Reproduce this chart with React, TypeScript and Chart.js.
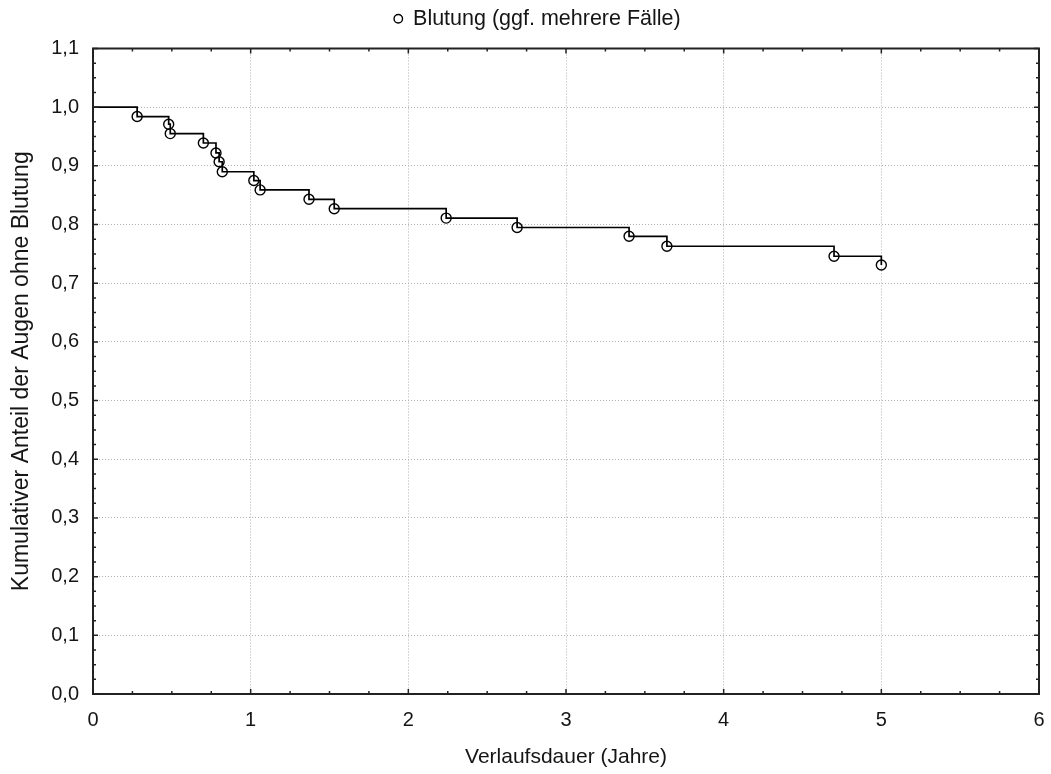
import React, { useEffect, useRef } from 'react';
import { Chart, registerables } from 'chart.js';

Chart.register(...registerables);

// ---- data ----
const startTime = 0;
const startSurvival = 1.0;
const eventTimes = [0.28, 0.48, 0.49, 0.70, 0.78, 0.80, 0.82, 1.02, 1.06, 1.37, 1.53, 2.24, 2.69, 3.40, 3.64, 4.70, 5.00];
const survival = [0.984, 0.971, 0.955, 0.939, 0.922, 0.907, 0.890, 0.875, 0.859, 0.843, 0.827, 0.811, 0.795, 0.780, 0.763, 0.746, 0.731];
const xTicks = [0, 1, 2, 3, 4, 5, 6];
const yTicks = [0, 0.1, 0.2, 0.3, 0.4, 0.5, 0.6, 0.7, 0.8, 0.9, 1.0, 1.1];
const legendLabel = 'Blutung (ggf. mehrere Fälle)';
const xTitle = 'Verlaufsdauer (Jahre)';
const yTitle = 'Kumulativer Anteil der Augen ohne Blutung';

const FONT = "'Liberation Sans', Arial, sans-serif";
const TEXT = '#151515';
const MINOR_DIV = 4;

const framePlugin = {
  id: 'frameTicks',
  afterDraw(chart: any) {
    const { ctx, chartArea: a, scales } = chart;
    const x = scales.x;
    const y = scales.y;
    ctx.save();
    ctx.strokeStyle = '#222';
    ctx.lineWidth = 2;
    ctx.strokeRect(a.left, a.top, a.right - a.left, a.bottom - a.top);
    ctx.lineWidth = 1.5;
    ctx.beginPath();
    for (let i = 0; i < xTicks.length; i++) {
      const v0 = xTicks[i];
      const v1 = i + 1 < xTicks.length ? xTicks[i + 1] : v0;
      const n = i + 1 < xTicks.length ? MINOR_DIV : 1;
      for (let k = 0; k < n; k++) {
        const v = v0 + ((v1 - v0) * k) / MINOR_DIV;
        const px = x.getPixelForValue(v);
        const len = k === 0 ? 5 : 3;
        ctx.moveTo(px, a.bottom);
        ctx.lineTo(px, a.bottom - len);
        ctx.moveTo(px, a.top);
        ctx.lineTo(px, a.top + len);
      }
    }
    for (let i = 0; i < yTicks.length; i++) {
      const v0 = yTicks[i];
      const v1 = i + 1 < yTicks.length ? yTicks[i + 1] : v0;
      const n = i + 1 < yTicks.length ? MINOR_DIV : 1;
      for (let k = 0; k < n; k++) {
        const v = v0 + ((v1 - v0) * k) / MINOR_DIV;
        const py = y.getPixelForValue(v);
        const len = k === 0 ? 5 : 3;
        ctx.moveTo(a.left, py);
        ctx.lineTo(a.left + len, py);
        ctx.moveTo(a.right, py);
        ctx.lineTo(a.right - len, py);
      }
    }
    ctx.stroke();
    ctx.restore();
  },
};

const legendSpacing = {
  id: 'legendSpacing',
  beforeLayout(chart: any) {
    const lg = chart.legend;
    if (lg && !lg.__patched) {
      const f = lg.fit.bind(lg);
      lg.fit = function () {
        f();
        this.height += 9;
      };
      lg.__patched = true;
    }
  },
  afterLayout(chart: any) {
    const lg = chart.legend;
    if (lg) {
      lg.left += 12;
      lg.right += 12;
    }
  },
};

export default function App() {
  const ref = useRef<HTMLCanvasElement | null>(null);

  useEffect(() => {
    document.body.style.margin = '0';
    document.body.style.overflow = 'hidden';
    if (!ref.current) return;

    const linePts = [{ x: startTime, y: startSurvival }].concat(
      eventTimes.map((t, i) => ({ x: t, y: survival[i] }))
    );
    const circlePts = eventTimes.map((t, i) => ({ x: t, y: survival[i] }));

    const chart = new Chart(ref.current, {
      type: 'line',
      data: {
        datasets: [
          {
            label: 'Kaplan-Meier',
            data: linePts,
            borderColor: '#000',
            borderWidth: 1.7,
            stepped: 'before',
            pointRadius: 0,
            fill: false,
          },
          {
            label: legendLabel,
            data: circlePts,
            showLine: false,
            pointStyle: 'circle',
            pointRadius: 5,
            pointBorderWidth: 1.4,
            pointBorderColor: '#000',
            pointBackgroundColor: 'rgba(0,0,0,0)',
            borderColor: '#000',
            backgroundColor: 'rgba(0,0,0,0)',
            borderWidth: 1.4,
          },
        ],
      } as any,
      options: {
        responsive: false,
        animation: false,
        layout: { padding: { top: 0, left: 0, right: 0, bottom: 0 } },
        plugins: {
          legend: {
            display: true,
            position: 'top',
            labels: {
              usePointStyle: true,
              boxWidth: 8,
              boxHeight: 6,
              padding: 8,
              color: TEXT,
              font: { family: FONT, size: 21.5 },
              filter: (item: any) => item.datasetIndex === 1,
            },
          },
          tooltip: { enabled: false },
        },
        scales: {
          x: {
            type: 'linear',
            min: 0,
            max: 6,
            afterBuildTicks: (s: any) => {
              s.ticks = xTicks.map((v) => ({ value: v }));
            },
            afterFit: (s: any) => {
              s.height = 80;
              s.paddingRight = 12;
              s.paddingLeft = 0;
            },
            ticks: {
              padding: 14,
              color: TEXT,
              font: { family: FONT, size: 20 },
              maxRotation: 0,
              autoSkip: false,
              callback: (v: any) => String(v),
            },
            grid: { color: '#b0b0b0', lineWidth: 1, drawTicks: false },
            border: { display: false, dash: [1, 2] },
            title: {
              display: true,
              text: xTitle,
              color: TEXT,
              font: { family: FONT, size: 21 },
              padding: { top: 0, bottom: 4 },
            },
          },
          y: {
            type: 'linear',
            min: 0,
            max: 1.1,
            afterBuildTicks: (s: any) => {
              s.ticks = yTicks.map((v) => ({ value: v }));
            },
            afterFit: (s: any) => {
              s.width = 93;
            },
            ticks: {
              padding: 14,
              color: TEXT,
              font: { family: FONT, size: 20 },
              autoSkip: false,
              callback: (v: any) => Number(v).toFixed(1).replace('.', ','),
            },
            grid: { color: '#b0b0b0', lineWidth: 1, drawTicks: false },
            border: { display: false, dash: [1, 2] },
            title: {
              display: true,
              text: yTitle,
              color: TEXT,
              font: { family: FONT, size: 23 },
              padding: { top: 8, bottom: 0 },
            },
          },
        },
      } as any,
      plugins: [framePlugin, legendSpacing] as any,
    });

    return () => chart.destroy();
  }, []);

  return (
    <div style={{ width: 1051, height: 774 }}>
      <canvas ref={ref} width={1051} height={774} style={{ display: 'block' }} />
    </div>
  );
}
